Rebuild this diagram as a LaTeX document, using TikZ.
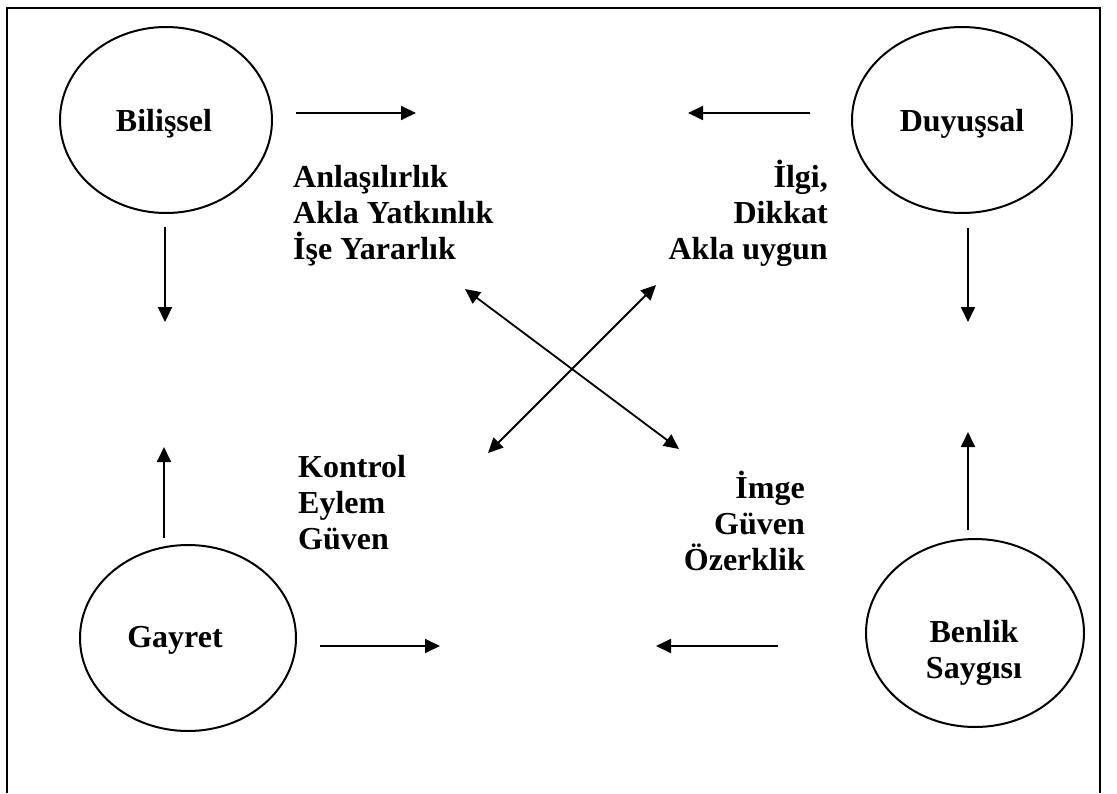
\documentclass[tikz,border=0pt]{standalone}
\usepackage{fontspec}
\setmainfont{Liberation Serif}
\usetikzlibrary{shapes.geometric,arrows.meta}
\begin{document}
\begin{tikzpicture}[x=1pt,y=-1pt,
  txt/.style={font=\fontsize{32}{36}\selectfont\bfseries, inner sep=0pt},
  oval/.style={draw, line width=2pt, ellipse, inner sep=0pt},
  arr/.style={line width=1.8pt, -{Triangle[length=15pt,width=14pt]}},
  darr/.style={line width=1.8pt, {Triangle[length=15pt,width=14pt]}-{Triangle[length=15pt,width=14pt]}}]
\useasboundingbox (0,0) rectangle (1117,793);
% open frame, its lower edge lies below the page
\draw[line width=2.2pt] (7,793) -- (7,8) -- (1100,8) -- (1100,793);

% the four ellipses
\node[oval, minimum width=212pt, minimum height=186pt] (bil) at (166,120) {};
\node[oval, minimum width=220pt, minimum height=186pt] (duy) at (962,120) {};
\node[oval, minimum width=216pt, minimum height=186pt] (gay) at (188,638) {};
\node[oval, minimum width=218pt, minimum height=188pt] (ben) at (975,633) {};

% their labels (base anchor = baseline of the last line)
\node[txt, anchor=base] (bilt) at (164,131) {Bilişsel};
\node[txt, anchor=base] (duyt) at (962,131) {Duyuşsal};
\node[txt, anchor=base] (gayt) at (175,647) {Gayret};
\node[txt, anchor=base, align=center] (bent) at (974,678) {Benlik\\Saygısı};

% text blocks between them
\node[txt, anchor=base west, align=left] (ust1) at (293,259) {Anlaşılırlık\\Akla Yatkınlık\\İşe Yararlık};
\node[txt, anchor=base east, align=right] (ust2) at (828,259) {İlgi,\\Dikkat\\Akla uygun};
\node[txt, anchor=base west, align=left] (alt1) at (298,549) {Kontrol\\Eylem\\Güven};
\node[txt, anchor=base east, align=right] (alt2) at (805,570) {İmge\\Güven\\Özerklik};

% arrow end points
\coordinate (a1s) at (296,113); \coordinate (a1e) at (416,113);
\coordinate (a2s) at (810,113); \coordinate (a2e) at (688,113);
\coordinate (a3s) at (165,227); \coordinate (a3e) at (165,322);
\coordinate (a4s) at (164,538); \coordinate (a4e) at (164,447);
\coordinate (a5s) at (968,228); \coordinate (a5e) at (968,322);
\coordinate (a6s) at (968,530); \coordinate (a6e) at (968,432);
\coordinate (a7s) at (320,646); \coordinate (a7e) at (440,646);
\coordinate (a8s) at (778,646); \coordinate (a8e) at (656,646);
\coordinate (x1s) at (465,289); \coordinate (x1e) at (679,449);
\coordinate (x2s) at (488,453); \coordinate (x2e) at (656,285);

\draw[arr] (a1s) -- (a1e);
\draw[arr] (a2s) -- (a2e);
\draw[arr] (a3s) -- (a3e);
\draw[arr] (a4s) -- (a4e);
\draw[arr] (a5s) -- (a5e);
\draw[arr] (a6s) -- (a6e);
\draw[arr] (a7s) -- (a7e);
\draw[arr] (a8s) -- (a8e);
\draw[darr] (x1s) -- (x1e);
\draw[darr] (x2s) -- (x2e);
\end{tikzpicture}
\end{document}
